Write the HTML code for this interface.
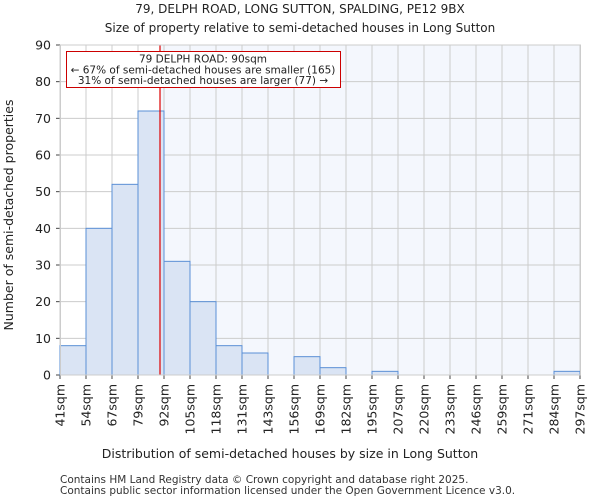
<!DOCTYPE html>
<html><head><meta charset="utf-8"><style>
body{margin:0;background:#fff;font-family:"DejaVu Sans","Liberation Sans",sans-serif}
</style></head><body>
<svg id="chart" width="600" height="500" xmlns="http://www.w3.org/2000/svg" font-family="DejaVu Sans, Liberation Sans, sans-serif">
<text x="300" y="13" text-anchor="middle" font-size="12" fill="#222">79, DELPH ROAD, LONG SUTTON, SPALDING, PE12 9BX</text>
<text x="300" y="32" text-anchor="middle" font-size="12" fill="#222">Size of property relative to semi-detached houses in Long Sutton</text>
<g id="plot"></g>
<text x="290" y="458" text-anchor="middle" font-size="12.5" fill="#222">Distribution of semi-detached houses by size in Long Sutton</text>
<text transform="translate(13,215) rotate(-90)" text-anchor="middle" font-size="12.5" fill="#222">Number of semi-detached properties</text>
<text x="60" y="483" font-size="10.5" fill="#333">Contains HM Land Registry data © Crown copyright and database right 2025.</text>
<text x="60" y="494" font-size="10.5" fill="#333">Contains public sector information licensed under the Open Government Licence v3.0.</text>
</svg>
<script>
const binEdges=[41,54,67,79,92,105,118,131,143,156,169,182,195,207,220,233,246,259,271,284,297];
const counts=[8,40,52,72,31,20,8,6,0,5,2,0,1,0,0,0,0,0,0,1];
const yTicks=[0,10,20,30,40,50,60,70,80,90];
const subjectSize=90;
const annotationLines=["79 DELPH ROAD: 90sqm","← 67% of semi-detached houses are smaller (165)","31% of semi-detached houses are larger (77) →"];
const NS="http://www.w3.org/2000/svg";
const g=document.getElementById('plot');
const L=60,R=580,T=45,B=375,yMax=90;
const n=binEdges.length-1,bw=(R-L)/n;
const xi=i=>L+i*bw;
const xv=v=>{for(let i=0;i<n;i++){if(v>=binEdges[i]&&v<=binEdges[i+1])return xi(i)+(v-binEdges[i])/(binEdges[i+1]-binEdges[i])*bw;}return R;};
const y=v=>B-(v/yMax)*(B-T);
function mk(t,a,p){const e=document.createElementNS(NS,t);for(const k in a)e.setAttribute(k,a[k]);(p||g).appendChild(e);return e;}
const sx=xv(subjectSize);
let e=mk('rect',{x:sx,y:T,width:R-sx,height:B-T,fill:'#f4f7fd'});


yTicks.forEach(t=>{
 let l=mk('line',{x1:L,x2:R,y1:y(t),y2:y(t),stroke:'#ccc','stroke-width':1});
 
 
 let k=mk('line',{x1:L-4,x2:L,y1:y(t),y2:y(t),stroke:'#444'});
 
 
 let s=mk('text',{x:L-9,y:y(t)+4.5,'text-anchor':'end','font-size':12.5,fill:'#222'});s.textContent=t;
 
 
});
binEdges.forEach((b,i)=>{
 let l=mk('line',{x1:xi(i),x2:xi(i),y1:T,y2:B,stroke:'#ccc'});
 
 
 let k=mk('line',{x1:xi(i),x2:xi(i),y1:B,y2:B+4,stroke:'#444'});
 
 
 let s=mk('text',{transform:`translate(${xi(i)+4.5},${B+9}) rotate(-90)`,'text-anchor':'end','font-size':12.5,fill:'#222'});s.textContent=b+'sqm';
 
 
});
counts.forEach((c,i)=>{
 if(c<=0)return;
 let r=mk('rect',{x:xi(i),y:y(c),width:bw,height:B-y(c),fill:'#dae4f4',stroke:'#5a8fd6','stroke-width':1});
 
 
});
e=mk('line',{x1:sx,x2:sx,y1:T,y2:B,stroke:'#d00','stroke-width':1.2});


e=mk('rect',{x:L+0.5,y:T,width:R-L,height:B-T,fill:'none',stroke:'#ccc'});


e=mk('rect',{x:66.5,y:51.5,width:274,height:36,fill:'#fff',stroke:'#c00','stroke-width':1});


annotationLines.forEach((t,i)=>{
 let s=mk('text',{x:203,y:62.5+i*10.8,'text-anchor':'middle','font-size':10.5,fill:'#222'});s.textContent=t;
 
 
});
</script>
</body></html>
